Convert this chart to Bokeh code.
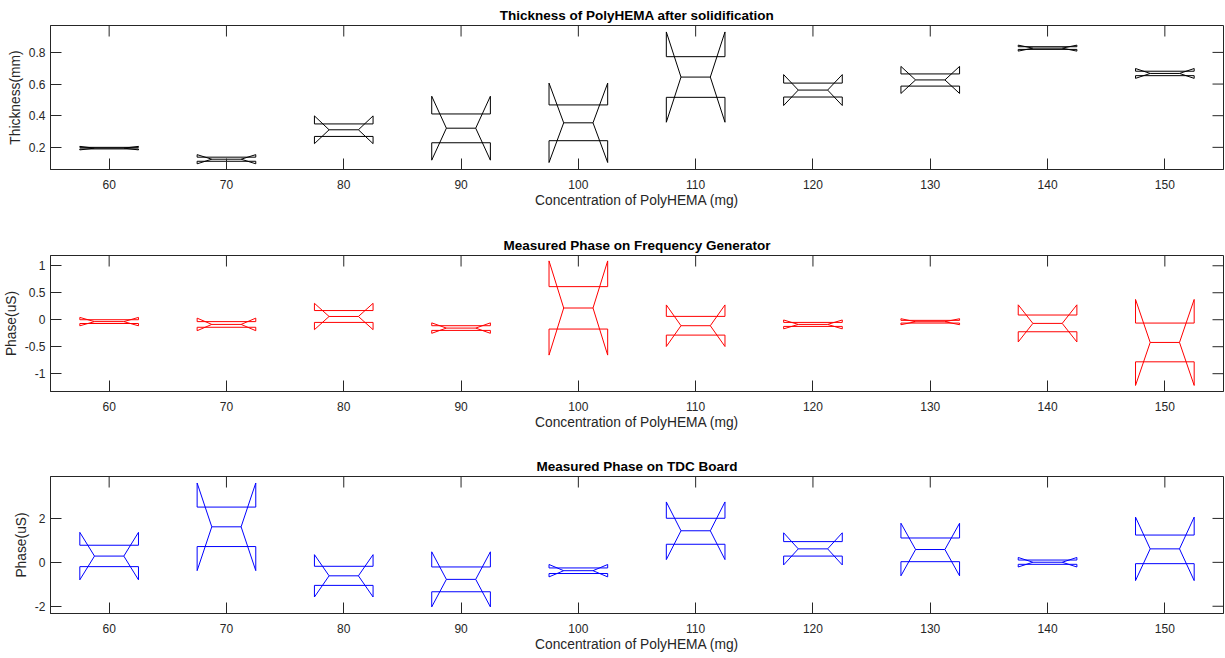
import math
from bokeh.plotting import figure
from bokeh.models import Range1d, FixedTicker, CustomJSTickFormatter
from bokeh.layouts import column
from bokeh.embed import file_html
from bokeh.resources import INLINE

# ---- data ----
concentration = [60, 70, 80, 90, 100, 110, 120, 130, 140, 150]
n_samples = 2  # samples per group (notch = med +/- 1.57*IQR/sqrt(n))

thick_q1 = [0.190, 0.112, 0.269, 0.229, 0.242, 0.516, 0.518, 0.587, 0.819, 0.653]
thick_med = [0.195, 0.125, 0.311, 0.321, 0.355, 0.644, 0.562, 0.626, 0.827, 0.667]
thick_q3 = [0.200, 0.138, 0.348, 0.411, 0.468, 0.773, 0.606, 0.664, 0.836, 0.681]

fg_q1 = [-0.070, -0.140, -0.050, -0.198, -0.173, -0.285, -0.124, -0.062, -0.223, -0.780]
fg_med = [-0.035, -0.087, 0.060, -0.155, 0.217, -0.111, -0.087, -0.037, -0.068, -0.421]
fg_q3 = [0.000, -0.035, 0.170, -0.111, 0.613, 0.062, -0.050, -0.012, 0.087, -0.062]

tdc_q1 = [-0.195, 0.719, -1.049, -1.340, -0.509, 0.824, 0.285, 0.030, -0.090, -0.060]
tdc_med = [0.285, 1.618, -0.614, -0.775, -0.380, 1.438, 0.614, 0.584, 0.005, 0.614]
tdc_q3 = [0.779, 2.517, -0.180, -0.210, -0.255, 2.007, 0.944, 1.109, 0.105, 1.243]

thick_yticks = [0.2, 0.4, 0.6, 0.8]
fg_yticks = [-1, -0.5, 0, 0.5, 1]
tdc_yticks = [-2, 0, 2]

FONT = "Liberation Sans"
AX = "#262626"
BOX_HALF = 2.5  # half box width in x units (mg)
TICK = 11


def notch_paths(q1, med, q3):
    xs, ys, mx, my = [], [], [], []
    for c, a, m, b in zip(concentration, q1, med, q3):
        half = 1.57 * (b - a) / math.sqrt(n_samples)
        lo, hi = m - half, m + half
        w = BOX_HALF
        xs.append([c - w, c - w, c - w / 2, c - w, c - w, c + w, c + w, c + w / 2, c + w, c + w, c - w])
        ys.append([a, lo, m, hi, b, b, hi, m, lo, a, a])
        mx.append([c - w / 2, c + w / 2])
        my.append([m, m])
    return xs, ys, mx, my


def style_axis(ax, ticks, label, label_standoff, title_standoff):
    ax.ticker = FixedTicker(ticks=ticks)
    ax.major_tick_in = TICK
    ax.major_tick_out = 0
    ax.minor_tick_in = 0
    ax.minor_tick_out = 0
    ax.axis_line_color = AX
    ax.major_tick_line_color = AX
    ax.major_label_text_font = FONT
    ax.major_label_text_color = AX
    ax.major_label_text_font_size = "12px"
    ax.major_label_standoff = label_standoff
    ax.axis_label = label
    ax.axis_label_text_font = FONT
    ax.axis_label_text_font_size = "13.8px"
    ax.axis_label_text_font_style = "normal"
    ax.axis_label_text_color = AX
    ax.axis_label_standoff = title_standoff
    ax.formatter = CustomJSTickFormatter(code="return String(tick);")


def panel(title, ylabel, q1, med, q3, color, yr, yticks, frame_h, bottom):
    xr = Range1d(55, 155)
    yrng = Range1d(*yr)
    p = figure(frame_width=1173, frame_height=frame_h, x_range=xr, y_range=yrng,
               output_backend="svg", toolbar_location=None,
               min_border_left=50, min_border_right=2, min_border_top=25,
               min_border_bottom=bottom)
    p.grid.visible = False
    p.outline_line_color = AX
    p.outline_line_width = 1
    p.background_fill_color = "white"
    p.border_fill_color = "white"
    p.title.text = title
    p.title.text_font = FONT
    p.title.text_font_size = "13.5px"
    p.title.text_font_style = "bold"
    p.title.text_color = "black"
    p.title.align = "center"
    p.title.standoff = 6

    style_axis(p.xaxis[0], concentration, "Concentration of PolyHEMA (mg)", 10, 1)
    style_axis(p.yaxis[0], yticks, ylabel, 5, 3)

    # mirrored tick marks on the top and right edges of the box
    p.ray(x=concentration, y=[yrng.end] * len(concentration), length=TICK,
          length_units="screen", angle=-math.pi / 2, line_color=AX, line_width=1)
    p.ray(x=[xr.end] * len(yticks), y=yticks, length=TICK,
          length_units="screen", angle=math.pi, line_color=AX, line_width=1)

    xs, ys, mx, my = notch_paths(q1, med, q3)
    p.multi_line(xs, ys, line_color=color, line_width=1)
    p.multi_line(mx, my, line_color=color, line_width=1)
    return p


p1 = panel("Thickness of PolyHEMA after solidification", "Thickness(mm)",
           thick_q1, thick_med, thick_q3, "black", (0.06, 0.97), thick_yticks, 144, 61)
p2 = panel("Measured Phase on Frequency Generator", "Phase(uS)",
           fg_q1, fg_med, fg_q3, "#ff0000", (-1.33, 1.19), fg_yticks, 136, 60)
p3 = panel("Measured Phase on TDC Board", "Phase(uS)",
           tdc_q1, tdc_med, tdc_q3, "#0000ff", (-2.33, 3.91), tdc_yticks, 137, 44)

layout = column(p1, p2, p3)
open("out.html", "w").write(file_html(layout, INLINE))
